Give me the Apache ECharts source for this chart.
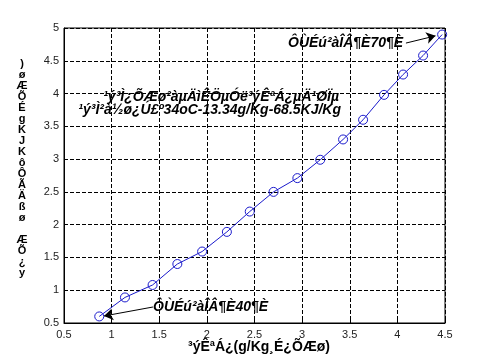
<!DOCTYPE html>
<html>
<head>
<meta charset="utf-8">
<script src="https://cdn.jsdelivr.net/npm/echarts@6/dist/echarts.min.js"></script>
<style>
html,body{margin:0;padding:0;background:#fff;}
#c{width:492px;height:364px;}
</style>
</head>
<body>
<div id="c"></div>
<script>
// Data
const xValues = [0.87, 1.14, 1.43, 1.69, 1.95, 2.21, 2.45, 2.70, 2.95, 3.19, 3.43, 3.64, 3.86, 4.06, 4.27, 4.47];
const yValues = [0.60, 0.89, 1.08, 1.40, 1.59, 1.89, 2.20, 2.50, 2.71, 2.99, 3.30, 3.60, 3.98, 4.29, 4.58, 4.90];
const xTitle = "³ýÊªÁ¿(g/Kg¸É¿ÕÆø)";
const yTitleGlyphs = [")", "ø", "Æ", "Õ", "É", "g", "K", "J", "K", "ô", "Ô", "Ã", "Ä", "ß", "ø", " ", "Æ", "Õ", "¿", "y"];
const noteLine1 = "¹ý³Ì¿ÕÆø²àµÄìÊÖµÓë³ýÊªÁ¿µÄ¹ØÏµ";
const noteLine2 = "¹ý³Ì²à½ø¿Ú£º34oC-13.34g/Kg-68.5KJ/Kg";
const note70 = "ÔÙÉú²àÎÂ¶È70¶È";
const note40 = "ÔÙÉú²àÎÂ¶È40¶È";
// arrow endpoints in data units: [from, to]
const arrow70 = [[4.09, 4.77], [4.40, 4.88]];
const arrow40 = [[1.434, 0.744], [0.92, 0.607]];

const seriesData = xValues.map((x, i) => [x, yValues[i]]);
const chart = echarts.init(document.getElementById('c'), null, {renderer: 'canvas'});
const FONT = "'Liberation Sans', Arial, Helvetica, sans-serif";
const BLUE = '#1a1acc';

chart.setOption({
  animation: false,
  backgroundColor: '#fff',
  grid: {left: 64, right: 47, top: 28, bottom: 41, show: true, borderColor: '#000', borderWidth: 1},
  xAxis: {
    type: 'value', min: 0.5, max: 4.5, interval: 0.5,
    axisLine: {show: true, onZero: false, lineStyle: {color: '#000', width: 1}},
    axisTick: {show: true, inside: true, length: 4, lineStyle: {color: '#000'}},
    axisLabel: {color: '#222', fontFamily: FONT, fontSize: 11, margin: 6},
    splitLine: {show: true, lineStyle: {color: '#000', width: 1, type: 'dashed'}}
  },
  yAxis: {
    type: 'value', min: 0.5, max: 5, interval: 0.5,
    axisLine: {show: true, onZero: false, lineStyle: {color: '#000', width: 1}},
    axisTick: {show: true, inside: true, length: 4, lineStyle: {color: '#000'}},
    axisLabel: {color: '#222', fontFamily: FONT, fontSize: 11, margin: 5},
    splitLine: {show: true, lineStyle: {color: '#000', width: 1, type: 'dashed'}}
  },
  series: [{
    type: 'line',
    data: seriesData,
    symbol: 'circle',
    symbolSize: 9,
    z: 3,
    lineStyle: {color: BLUE, width: 1},
    itemStyle: {color: 'rgba(0,0,0,0)', borderColor: BLUE, borderWidth: 1},
    markLine: {
      silent: true,
      symbol: ['none', 'arrow'],
      symbolSize: 9,
      label: {show: false},
      lineStyle: {color: '#000', width: 1, type: 'solid'},
      itemStyle: {color: '#000'},
      emphasis: {disabled: true},
      data: [
        [{coord: arrow70[0]}, {coord: arrow70[1]}],
        [{coord: arrow40[0]}, {coord: arrow40[1]}]
      ]
    }
  }],
  graphic: [
    {type: 'text', x: 259, y: 340, style: {text: xTitle, font: "bold 14px " + FONT, fill: '#000', textAlign: 'center'}},
    {type: 'text', x: 22, y: 58, style: {text: yTitleGlyphs.join('\n'), font: "bold 11px " + FONT, lineHeight: 11, fill: '#000', textAlign: 'center'}},
    {type: 'text', x: 339, y: 90, style: {text: noteLine1, font: "italic bold 14px " + FONT, fill: '#000', textAlign: 'right'}},
    {type: 'text', x: 341, y: 103, style: {text: noteLine2, font: "italic bold 14px " + FONT, fill: '#000', textAlign: 'right'}},
    {type: 'text', x: 288, y: 36, style: {text: note70, font: "italic bold 14px " + FONT, fill: '#000'}},
    {type: 'text', x: 153, y: 300, style: {text: note40, font: "italic bold 14px " + FONT, fill: '#000'}}
  ]
});
</script>
</body>
</html>
